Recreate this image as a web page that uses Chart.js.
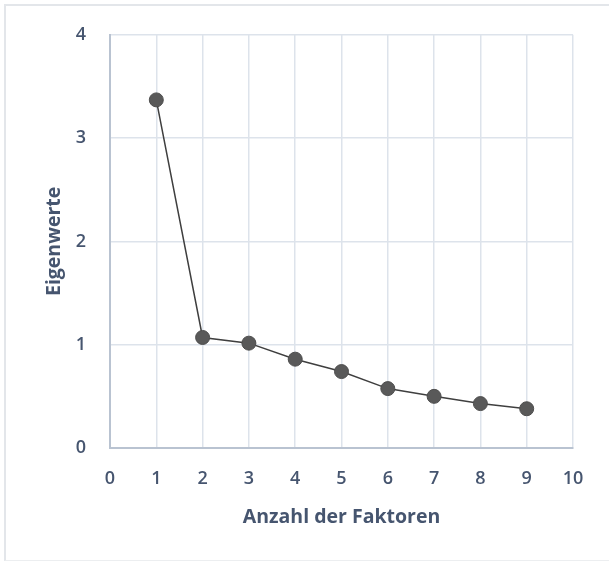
<!DOCTYPE html>
<html>
<head>
<meta charset="utf-8">
<script src="https://cdn.jsdelivr.net/npm/chart.js@4"></script>
<style>
  html, body { margin: 0; padding: 0; background: #fff; }
  #wrap { position: relative; width: 609px; height: 563px; }
  #frame { position: absolute; left: 4px; top: 4px; width: 610px; height: 557px;
           border-left: 2px solid #e3e6ea; border-top: 2px solid #e3e6ea; border-bottom: 1px solid #eceef0; box-sizing: border-box; }
  canvas { position: absolute; left: 0; top: 0; }
</style>
</head>
<body>
<div id="wrap">
  <div id="frame"></div>
  <canvas id="c" width="609" height="563"></canvas>
</div>
<script>
const factors = [1, 2, 3, 4, 5, 6, 7, 8, 9];
const eigenvalues = [3.37, 1.07, 1.015, 0.86, 0.74, 0.575, 0.50, 0.43, 0.38];
const xTicks = [0, 1, 2, 3, 4, 5, 6, 7, 8, 9, 10];
const yTicks = [0, 1, 2, 3, 4];
const xTitle = 'Anzahl der Faktoren';
const yTitle = 'Eigenwerte';

const textColor = '#46556f';
const fontFamily = '"Open Sans", Lato, sans-serif';

new Chart(document.getElementById('c'), {
  type: 'scatter',
  data: {
    datasets: [{
      data: factors.map((f, i) => ({ x: f, y: eigenvalues[i] })),
      showLine: true,
      borderColor: '#3f3f3f',
      borderWidth: 1.5,
      backgroundColor: '#595959',
      pointBackgroundColor: '#595959',
      pointBorderColor: '#4d4d4d',
      pointBorderWidth: 1,
      pointRadius: 7,
      tension: 0
    }]
  },
  options: {
    responsive: false,
    animation: false,
    layout: { padding: { left: 0, right: 36, top: 33, bottom: 0 } },
    plugins: { legend: { display: false }, tooltip: { enabled: false } },
    scales: {
      x: {
        type: 'linear',
        min: 0, max: 10,
        afterBuildTicks: s => { s.ticks = xTicks.map(v => ({ value: v })); },
        afterFit: s => { s.height = 115; },
        grid: { color: '#dde3eb', lineWidth: 1.5, drawTicks: false },
        border: { color: '#b9c3d1', width: 2 },
        ticks: { padding: 20, color: textColor, font: { family: fontFamily, size: 18, weight: '600' }, maxRotation: 0 },
        title: { display: true, text: xTitle, color: textColor,
                 font: { family: fontFamily, size: 19.5, weight: 'bold' },
                 padding: { top: 0, bottom: 34 } }
      },
      y: {
        type: 'linear',
        min: 0, max: 4,
        afterBuildTicks: s => { s.ticks = yTicks.map(v => ({ value: v })); },
        afterFit: s => { s.width = 110; },
        grid: { color: '#dde3eb', lineWidth: 1.5, drawTicks: false },
        border: { color: '#b9c3d1', width: 2 },
        ticks: { padding: 24, color: textColor, font: { family: fontFamily, size: 18, weight: '600' } },
        title: { display: true, text: yTitle, color: textColor,
                 font: { family: fontFamily, size: 19.5, weight: 'bold' },
                 padding: { top: 43, bottom: 0 } }
      }
    }
  }
});
</script>
</body>
</html>
